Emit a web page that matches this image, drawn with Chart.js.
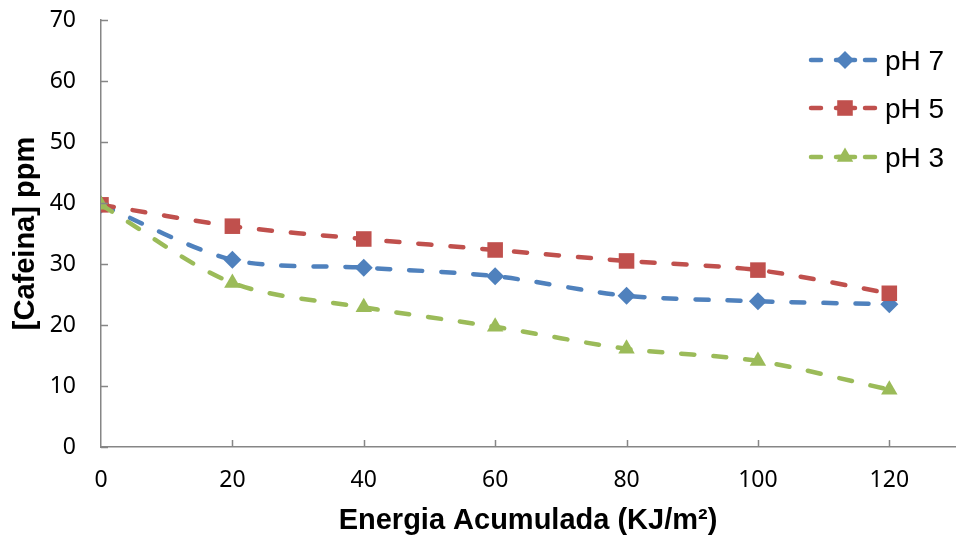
<!DOCTYPE html>
<html>
<head>
<meta charset="utf-8">
<script src="https://cdn.jsdelivr.net/npm/chart.js@4"></script>
<style>
    html, body { margin: 0; padding: 0; background: #fff; }
    #wrap { width: 956px; height: 542px; }
</style>
</head>
<body>
<div id="wrap"><canvas id="chart" width="956" height="542"></canvas></div>
<script>
// Energia acumulada (KJ/m2)
const energia = [0, 20, 40, 60, 80, 100, 120];

// [Cafeina] ppm per pH
const ph7 = [39.7, 30.7, 29.4, 28.0, 24.8, 23.9, 23.4];
const ph5 = [39.7, 36.2, 34.1, 32.3, 30.5, 29.0, 25.2];
const ph3 = [39.7, 26.9, 22.9, 19.7, 16.1, 14.1, 9.4];

const seriesLabels = ['pH 7', 'pH 5', 'pH 3'];
const xTicks = [0, 20, 40, 60, 80, 100, 120];

const FONT = "'Liberation Sans', Arial, sans-serif";
const TICK_FONT = "'Noto Sans', 'Open Sans', sans-serif";
const AXIS_GREY = '#868686';
const DASH = [13, 19];

function toPoints(values) {
    return energia.map((x, i) => ({ x: x, y: values[i] }));
}

function makeDataset(label, values, color, pointStyle, radius, order) {
    return {
        label: label,
        data: toPoints(values),
        borderColor: color,
        backgroundColor: color,
        borderWidth: 4.5,
        borderDash: DASH,
        borderCapStyle: 'round',
        tension: 0.3,
        pointStyle: pointStyle,
        pointRadius: radius,
        pointHoverRadius: radius,
        pointBorderWidth: 0,
        order: order
    };
}

// tick marks drawn inside the plot like the original
const insideTicks = {
    id: 'insideTicks',
    afterDatasetsDraw(chart) {
        const ctx = chart.ctx;
        const x = chart.scales.x;
        const y = chart.scales.y;
        ctx.save();
        ctx.strokeStyle = AXIS_GREY;
        ctx.lineWidth = 1.5;
        ctx.beginPath();
        y.ticks.forEach(t => {
            const py = Math.round(y.getPixelForValue(t.value)) + 0.5;
            ctx.moveTo(x.left, py);
            ctx.lineTo(x.left + 7, py);
        });
        x.ticks.forEach(t => {
            if (t.value === 0) return;
            const px = Math.round(x.getPixelForValue(t.value)) + 0.5;
            ctx.moveTo(px, y.bottom);
            ctx.lineTo(px, y.bottom - 7);
        });
        ctx.stroke();
        ctx.restore();
    }
};

// legend with dashed sample line + marker
const sideLegend = {
    id: 'sideLegend',
    afterDraw(chart) {
        const ctx = chart.ctx;
        const rows = [60, 108, 157];
        ctx.save();
        chart.data.datasets.forEach((ds, i) => {
            const ly = rows[i];
            ctx.strokeStyle = ds.borderColor;
            ctx.lineWidth = 4.5;
            ctx.lineCap = 'round';
            ctx.setLineDash([10, 17]);
            ctx.beginPath();
            ctx.moveTo(811, ly);
            ctx.lineTo(876, ly);
            ctx.stroke();
            ctx.setLineDash([]);
            ctx.beginPath();
            ctx.moveTo(836, ly);
            ctx.lineTo(855, ly);
            ctx.stroke();
            ctx.fillStyle = ds.backgroundColor;
            Chart.helpers.drawPoint(ctx, { pointStyle: ds.pointStyle, radius: ds.pointRadius, rotation: 0, borderWidth: 0 }, 845, ly);
            ctx.fillStyle = '#000';
            ctx.font = '28px ' + FONT;
            ctx.textBaseline = 'middle';
            ctx.textAlign = 'left';
            ctx.fillText(ds.label, 885, ly + 2);
        });
        ctx.restore();
    }
};

new Chart(document.getElementById('chart'), {
    type: 'line',
    data: {
        datasets: [
            makeDataset(seriesLabels[0], ph7, '#4F81BD', 'rectRot', 9, 3),
            makeDataset(seriesLabels[1], ph5, '#C0504D', 'rect', 11, 2),
            makeDataset(seriesLabels[2], ph3, '#9BBB59', 'triangle', 9.5, 1)
        ]
    },
    options: {
        responsive: false,
        animation: false,
        layout: { autoPadding: false, padding: { top: 20, right: 1, left: 0, bottom: 0 } },
        plugins: {
            legend: { display: false },
            tooltip: { enabled: false }
        },
        scales: {
            x: {
                type: 'linear',
                min: 0,
                max: 130,
                afterBuildTicks: (scale) => {
                    scale.ticks = xTicks.map(v => ({ value: v }));
                },
                afterFit: (scale) => {
                    scale.height = 95;
                    scale.paddingLeft = 0;
                    scale.paddingRight = 0;
                },
                grid: { display: false, drawTicks: false },
                border: { color: AXIS_GREY, width: 1.5 },
                ticks: {
                    color: '#000',
                    padding: 20,
                    maxRotation: 0,
                    font: { family: TICK_FONT, size: 23 }
                },
                title: {
                    display: true,
                    text: 'Energia Acumulada (KJ/m²)',
                    color: '#000',
                    padding: { top: 4, bottom: 4 },
                    font: { family: FONT, size: 29, weight: 'bold' }
                }
            },
            y: {
                min: 0,
                max: 70,
                ticks: {
                    stepSize: 10,
                    color: '#000',
                    padding: 25,
                    font: { family: TICK_FONT, size: 23 }
                },
                afterFit: (scale) => {
                    scale.width = 101;
                    scale.paddingTop = 0;
                    scale.paddingBottom = 0;
                },
                grid: { display: false, drawTicks: false },
                border: { color: AXIS_GREY, width: 1.5 },
                title: {
                    display: true,
                    text: '[Cafeina] ppm',
                    color: '#000',
                    padding: { top: 9, bottom: 4 },
                    font: { family: FONT, size: 29, weight: 'bold' }
                }
            }
        }
    },
    plugins: [insideTicks, sideLegend]
});
</script>
</body>
</html>
